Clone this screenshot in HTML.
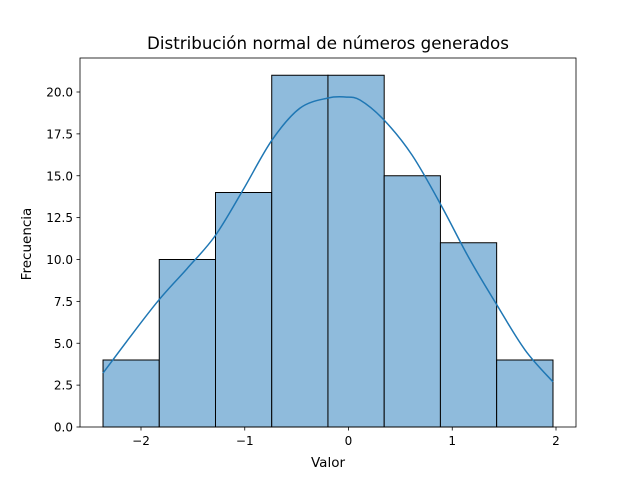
<!DOCTYPE html>
<html><head><meta charset="utf-8"><style>body{margin:0;background:#fff}svg{display:block;font-family:"DejaVu Sans","Liberation Sans",sans-serif}</style></head>
<body>
<svg id="chart" width="640" height="480">
<rect x="0" y="0" width="640" height="480" fill="#fff"/>
<g id="bars"></g>
<path id="kde" fill="none" stroke="#1f77b4" stroke-width="1.5"/>
<rect x="80" y="58" width="496" height="369" fill="none" stroke="#000" stroke-width="0.8"/>
<g id="xticks"></g>
<g id="yticks"></g>
<text x="328" y="49" text-anchor="middle" font-size="16.7">Distribución normal de números generados</text>
<text x="328" y="467" text-anchor="middle" font-size="13.5">Valor</text>
<text transform="translate(31,244) rotate(-90)" text-anchor="middle" font-size="13.5">Frecuencia</text>
</svg>
<script>
const binEdges=[-2.366,-1.824,-1.282,-0.740,-0.198,0.344,0.886,1.428,1.971];
const counts=[4,10,14,21,21,15,11,4];
const kdeX=[-2.366,-2.106,-1.826,-1.557,-1.287,-1.017,-0.737,-0.467,-0.198,-0.034,0.111,0.342,0.612,0.892,1.161,1.431,1.701,1.971];
const kdeY=[3.22,5.37,7.60,9.45,11.40,14.15,17.13,19.04,19.64,19.70,19.52,18.33,16.24,13.25,10.09,7.28,4.60,2.69];
const xTicks=[-2,-1,0,1,2];
const xTickLabels=["−2","−1","0","1","2"];
const yTicks=[0,2.5,5,7.5,10,12.5,15,17.5,20];
const yTickLabels=["0.0","2.5","5.0","7.5","10.0","12.5","15.0","17.5","20.0"];
const NS="http://www.w3.org/2000/svg";
const sx=v=>348.5+v*103.75, sy=v=>427-v*16.75;
function mk(tag,attrs,parent){const e=document.createElementNS(NS,tag);for(const k in attrs)e.setAttribute(k,attrs[k]);parent.appendChild(e);return e;}
const bars=document.getElementById('bars');
counts.forEach((c,i)=>{
 const r=mk('rect',{x:sx(binEdges[i]),y:sy(c),width:sx(binEdges[i+1])-sx(binEdges[i]),height:sy(0)-sy(c),fill:'#8fbbdc',stroke:'#000','stroke-width':1},bars);
 
 
});
const P=kdeX.map((x,i)=>[sx(x),sy(kdeY[i])]);
let d='M'+P[0][0].toFixed(1)+' '+P[0][1].toFixed(1);
for(let i=0;i<P.length-1;i++){
 const p0=P[Math.max(i-1,0)],p1=P[i],p2=P[i+1],p3=P[Math.min(i+2,P.length-1)];
 const c1=[p1[0]+(p2[0]-p0[0])/6,p1[1]+(p2[1]-p0[1])/6];
 const c2=[p2[0]-(p3[0]-p1[0])/6,p2[1]-(p3[1]-p1[1])/6];
 d+=' C'+c1.map(v=>v.toFixed(1)).join(' ')+' '+c2.map(v=>v.toFixed(1)).join(' ')+' '+p2.map(v=>v.toFixed(1)).join(' ');
}
document.getElementById('kde').setAttribute('d',d);
const xg=document.getElementById('xticks');
xTicks.forEach((t,i)=>{
 const l=mk('line',{x1:sx(t),x2:sx(t),y1:427,y2:430.5,stroke:'#000','stroke-width':0.8},xg);
 
 
 const tx=mk('text',{x:sx(t),y:445,'text-anchor':'middle','font-size':12},xg);
 tx.textContent=xTickLabels[i];
 
 
});
const yg=document.getElementById('yticks');
yTicks.forEach((t,i)=>{
 const l=mk('line',{x1:76.5,x2:80,y1:sy(t),y2:sy(t),stroke:'#000','stroke-width':0.8},yg);
 
 
 const tx=mk('text',{x:73,y:sy(t)+4.5,'text-anchor':'end','font-size':12},yg);
 tx.textContent=yTickLabels[i];
 
 
});
</script>
</body></html>
